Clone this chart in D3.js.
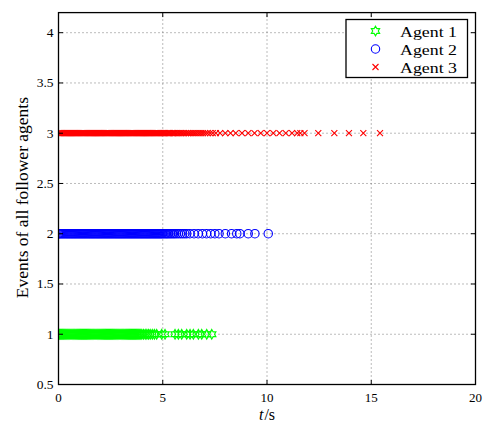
<!DOCTYPE html>
<html><head><meta charset="utf-8">
<script src="https://cdn.jsdelivr.net/npm/d3@7"></script>
<style>body{margin:0;background:#fff}svg{display:block}</style>
</head><body>
<script>
const xTicks = [0, 5, 10, 15, 20];
const yTicks = [0.5, 1, 1.5, 2, 2.5, 3, 3.5, 4];
const seriesNames = ["Agent 1", "Agent 2", "Agent 3"];
const seriesLevels = [1, 2, 3];
const agent1Times = [0,0.05,0.1,0.15,0.2,0.25,0.3,0.35,0.4,0.45,0.5,0.55,0.6,0.65,0.7,0.75,0.8,0.85,0.9,0.95,1,1.05,1.1,1.15,1.2,1.25,1.3,1.35,1.4,1.45,1.5,1.55,1.6,1.65,1.7,1.75,1.8,1.85,1.9,1.95,2,2.05,2.1,2.15,2.2,2.25,2.3,2.35,2.4,2.45,2.5,2.55,2.6,2.65,2.7,2.75,2.8,2.85,2.9,2.95,3,3.05,3.1,3.15,3.2,3.25,3.3,3.35,3.4,3.45,3.5,3.55,3.6,3.65,3.7,3.75,3.8,3.85,3.9,3.95,4,
  4.08,4.16,4.24,4.32,4.4,4.5,4.6,4.71,4.95,5.11,5.59,5.75,5.91,6.15,6.31,6.47,6.71,6.87,7.11,7.35];
const agent2Times = [0,0.05,0.1,0.15,0.2,0.25,0.3,0.35,0.4,0.45,0.5,0.55,0.6,0.65,0.7,0.75,0.8,0.85,0.9,0.95,1,1.05,1.1,1.15,1.2,1.25,1.3,1.35,1.4,1.45,1.5,1.55,1.6,1.65,1.7,1.75,1.8,1.85,1.9,1.95,2,2.05,2.1,2.15,2.2,2.25,2.3,2.35,2.4,2.45,2.5,2.55,2.6,2.65,2.7,2.75,2.8,2.85,2.9,2.95,3,3.05,3.1,3.15,3.2,3.25,3.3,3.35,3.4,3.45,3.5,3.55,3.6,3.65,3.7,3.75,3.8,3.85,3.9,3.95,4,
  4.05,4.1,4.15,4.2,4.25,4.3,4.35,4.4,4.45,4.5,4.55,4.6,4.65,4.7,4.75,4.8,4.85,4.9,4.95,5,5.06,5.12,5.18,5.24,5.3,5.37,5.44,5.51,5.58,5.66,
  5.75,5.85,5.95,6.05,6.15,6.3,6.5,6.7,6.9,7.1,7.3,7.5,7.7,8.0,8.3,8.55,8.7,9.1,9.42,10.06];
const agent3Times = [0,0.05,0.1,0.15,0.2,0.25,0.3,0.35,0.4,0.45,0.5,0.55,0.6,0.65,0.7,0.75,0.8,0.85,0.9,0.95,1,1.05,1.1,1.15,1.2,1.25,1.3,1.35,1.4,1.45,1.5,1.55,1.6,1.65,1.7,1.75,1.8,1.85,1.9,1.95,2,2.05,2.1,2.15,2.2,2.25,2.3,2.35,2.4,2.45,2.5,2.55,2.6,2.65,2.7,2.75,2.8,2.85,2.9,2.95,3,3.05,3.1,3.15,3.2,3.25,3.3,3.35,3.4,3.45,3.5,3.55,3.6,3.65,3.7,3.75,3.8,3.85,3.9,3.95,4,
  4.05,4.1,4.15,4.2,4.25,4.3,4.35,4.4,4.45,4.5,4.55,4.6,4.65,4.7,4.75,4.8,4.85,4.9,4.95,5,5.06,5.12,5.18,5.24,5.3,5.36,5.42,5.48,5.54,5.6,5.67,5.74,5.81,5.88,5.95,6.03,6.11,6.19,6.27,6.36,6.45,6.54,6.63,6.73,6.83,6.93,7.04,7.15,7.27,7.4,7.55,
  7.75,8.0,8.25,8.5,8.8,9.1,9.4,9.7,10.0,10.3,10.6,10.9,11.2,11.45,11.6,11.8,12.46,13.23,13.93,14.62,15.42];
const seriesTimes = [agent1Times, agent2Times, agent3Times];
const seriesColors = ["#00ff00", "#0000ff", "#ff0000"];

const W = 486, H = 428;
const m = {l: 58.5, r: 10.5, t: 12.6, b: 43.5};
const svg = d3.select("body").append("svg").attr("width", W).attr("height", H);
const x = d3.scaleLinear().domain([0, 20]).range([m.l, W - m.r]);
const y = d3.scaleLinear().domain([0.5, 4.2]).range([H - m.b, m.t]);
const font = "'Liberation Serif', 'Times New Roman', serif";

// grid
const g = svg.append("g");
g.selectAll(".gx").data(xTicks.slice(1, -1)).enter().append("line")
  .attr("x1", d => x(d)).attr("x2", d => x(d)).attr("y1", y(0.5)).attr("y2", y(4.2))
  .attr("stroke", "#555").attr("stroke-width", 0.8).attr("stroke-dasharray", "1,3");
g.selectAll(".gy").data(yTicks.slice(1)).enter().append("line")
  .attr("y1", d => y(d)).attr("y2", d => y(d)).attr("x1", x(0)).attr("x2", x(20))
  .attr("stroke", "#555").attr("stroke-width", 0.8).attr("stroke-dasharray", "1,3");

// markers
function hexPath(R) {
  const pts = [];
  for (let i = 0; i < 12; i++) {
    const a = -Math.PI / 2 + i * Math.PI / 6;
    const r = i % 2 === 0 ? R : R / Math.sqrt(3);
    pts.push([r * Math.cos(a), r * Math.sin(a)]);
  }
  return "M" + pts.map(p => p[0].toFixed(2) + "," + p[1].toFixed(2)).join("L") + "Z";
}
function drawMarker(sel, k) {
  if (k === 0) {
    sel.append("path").attr("d", hexPath(4.8)).attr("fill", "none")
      .attr("stroke", seriesColors[0]).attr("stroke-width", 1.1);
  } else if (k === 1) {
    sel.append("circle").attr("r", 4.2).attr("fill", "none")
      .attr("stroke", seriesColors[1]).attr("stroke-width", 1.1);
  } else {
    sel.append("path").attr("d", "M-3,-3L3,3M-3,3L3,-3").attr("fill", "none")
      .attr("stroke", seriesColors[2]).attr("stroke-width", 1.1);
  }
}
const clipId = "plotclip";
svg.append("clipPath").attr("id", clipId).append("rect")
  .attr("x", x(0)).attr("y", y(4.2)).attr("width", x(20) - x(0)).attr("height", y(0.5) - y(4.2));
seriesTimes.forEach((times, k) => {
  const s = svg.append("g").attr("clip-path", "url(#" + clipId + ")");
  times.forEach(t => {
    const mk = s.append("g").attr("transform", `translate(${x(t)},${y(seriesLevels[k])})`);
    drawMarker(mk, k);
  });
});

// frame
svg.append("rect").attr("x", x(0)).attr("y", y(4.2)).attr("width", x(20) - x(0))
  .attr("height", y(0.5) - y(4.2)).attr("fill", "none").attr("stroke", "#000").attr("stroke-width", 1.3);

// ticks (inward, all sides)
const tl = 4.5;
xTicks.forEach(d => {
  svg.append("line").attr("x1", x(d)).attr("x2", x(d)).attr("y1", y(0.5)).attr("y2", y(0.5) - tl).attr("stroke", "#000");
  svg.append("line").attr("x1", x(d)).attr("x2", x(d)).attr("y1", y(4.2)).attr("y2", y(4.2) + tl).attr("stroke", "#000");
  svg.append("text").attr("x", x(d)).attr("y", y(0.5) + 17.5).attr("text-anchor", "middle")
    .attr("font-family", font).attr("font-size", 13).text(d);
});
yTicks.forEach(d => {
  svg.append("line").attr("y1", y(d)).attr("y2", y(d)).attr("x1", x(0)).attr("x2", x(0) + tl).attr("stroke", "#000");
  svg.append("line").attr("y1", y(d)).attr("y2", y(d)).attr("x1", x(20)).attr("x2", x(20) - tl).attr("stroke", "#000");
  svg.append("text").attr("x", x(0) - 5).attr("y", y(d) + 4.5).attr("text-anchor", "end")
    .attr("font-family", font).attr("font-size", 13.5).text(d);
});

// axis labels
const xl = svg.append("text").attr("x", (x(0) + x(20)) / 2).attr("y", 420).attr("text-anchor", "middle")
  .attr("font-family", font).attr("font-size", 16);
xl.append("tspan").attr("font-style", "italic").text("t");
xl.append("tspan").attr("dx", 1).text("/s");
svg.append("text").attr("transform", `translate(27.5,${(y(0.5) + y(4.2)) / 2 - 1}) rotate(-90)`)
  .attr("text-anchor", "middle").attr("font-family", font).attr("font-size", 17.5)
  .text("Events of all follower agents");

// legend
const lg = svg.append("g");
lg.append("rect").attr("x", 346).attr("y", 19.5).attr("width", 121.5).attr("height", 58)
  .attr("fill", "#fff").attr("stroke", "#000").attr("stroke-width", 1.3);
seriesNames.forEach((name, k) => {
  const yy = 31 + k * 18;
  drawMarker(lg.append("g").attr("transform", `translate(375.5,${yy})`), k);
  lg.append("text").attr("x", 400).attr("y", yy + 5.5).attr("font-family", font).attr("font-size", 15.5)
    .attr("textLength", 57).attr("lengthAdjust", "spacingAndGlyphs").text(name);
});
</script>
</body></html>
